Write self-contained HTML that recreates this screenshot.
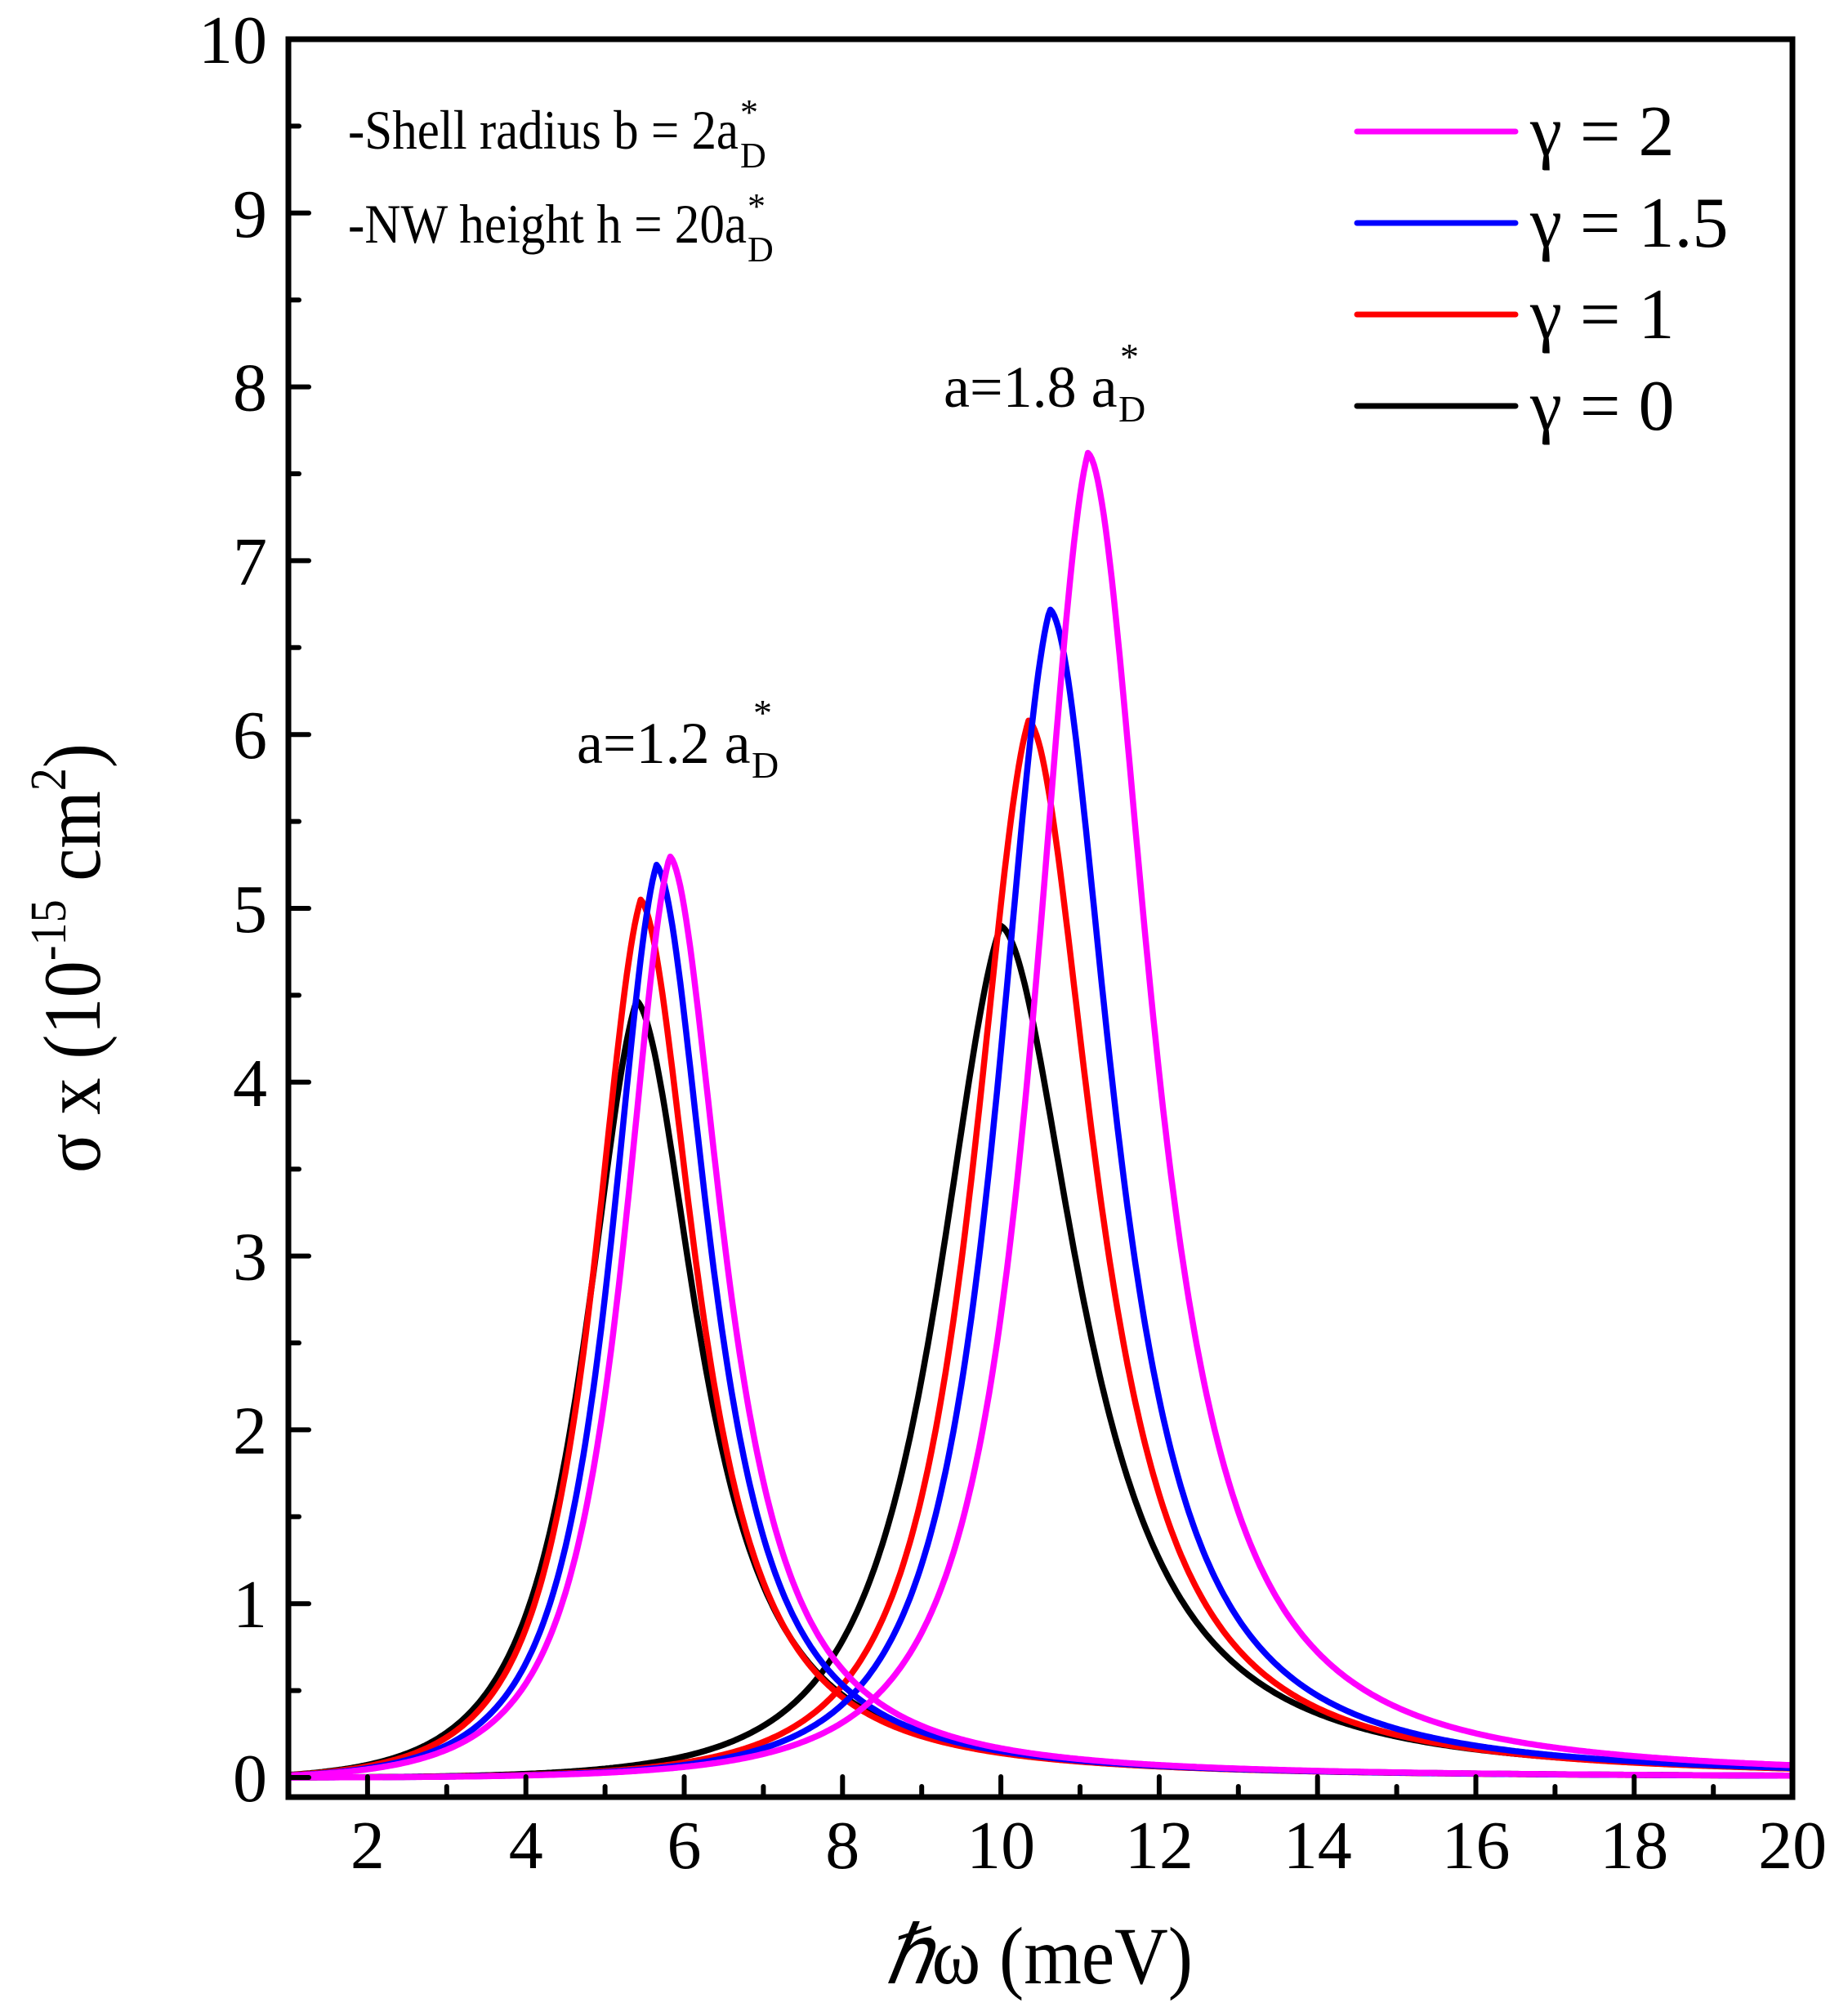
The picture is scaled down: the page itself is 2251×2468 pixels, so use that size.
<!DOCTYPE html>
<html><head><meta charset="utf-8"><style>
html,body{margin:0;padding:0;background:#fff;}
svg{display:block;}
text{font-family:"Liberation Serif",serif;fill:#000;}
</style></head><body>
<svg id="s" xmlns="http://www.w3.org/2000/svg" width="2251" height="2468" viewBox="0 0 2251 2468">
<rect width="2251" height="2468" fill="#fff"/>
<g id="curves" fill="none" stroke-width="7.5" stroke-linejoin="round"></g>
<g id="ticks" stroke="#000" stroke-width="6" stroke-linecap="round"></g>
<rect x="353" y="48" width="1841" height="2152" fill="none" stroke="#000" stroke-width="7"/>
<g id="labels" font-size="84"></g>

<g stroke-width="7" stroke-linecap="round">
<line x1="1661" y1="161" x2="1855" y2="161" stroke="#ff00ff"/>
<line x1="1661" y1="273" x2="1855" y2="273" stroke="#0000ff"/>
<line x1="1661" y1="385" x2="1855" y2="385" stroke="#ff0000"/>
<line x1="1661" y1="497" x2="1855" y2="497" stroke="#000000"/>
</g>
<g font-size="88">
<text x="1873" y="190">γ = 2</text>
<text x="1873" y="302">γ = 1.5</text>
<text x="1873" y="414">γ = 1</text>
<text x="1873" y="526">γ = 0</text>
</g>

<text x="426" y="182" font-size="68" textLength="478" lengthAdjust="spacingAndGlyphs">-Shell radius b = 2a</text>
<text x="906" y="152" font-size="44">*</text>
<text x="906" y="205" font-size="44">D</text>
<text x="426" y="297" font-size="68" textLength="488" lengthAdjust="spacingAndGlyphs">-NW height h = 20a</text>
<text x="915" y="267" font-size="44">*</text>
<text x="915" y="320" font-size="44">D</text>

<text x="706" y="934" font-size="72">a=1.2 a</text>
<text x="922" y="888" font-size="46">*</text>
<text x="920" y="952" font-size="46">D</text>
<text x="1155" y="498" font-size="72">a=1.8 a</text>
<text x="1371" y="452" font-size="46">*</text>
<text x="1369" y="516" font-size="46">D</text>

<text transform="translate(122,1436) rotate(-90)" font-size="100" textLength="526" lengthAdjust="spacingAndGlyphs">σ x (10<tspan font-size="62" dy="-42">-15</tspan><tspan dy="42"> cm</tspan><tspan font-size="62" dy="-42">2</tspan><tspan dy="42">)</tspan></text>
<text x="1083" y="2428" font-size="100" textLength="377" lengthAdjust="spacingAndGlyphs"><tspan font-style="italic">ℏ</tspan>ω (meV)</text>
</svg>
<script>
(function(){
var NS="http://www.w3.org/2000/svg";
function X(x){return 353+(x-1)*96.9;}
function Y(y){return 2176-y*212.8;}
var ticks=document.getElementById('ticks'),labels=document.getElementById('labels');
function line(x1,y1,x2,y2){var l=document.createElementNS(NS,'line');l.setAttribute('x1',x1);l.setAttribute('y1',y1);l.setAttribute('x2',x2);l.setAttribute('y2',y2);ticks.appendChild(l);}
function txt(x,y,s,anchor){var t=document.createElementNS(NS,'text');t.setAttribute('x',x);t.setAttribute('y',y);t.setAttribute('text-anchor',anchor);t.textContent=s;labels.appendChild(t);}
for(var i=0;i<=10;i++){var y=Y(i);line(353,y,378,y);txt(327,y+29,String(i),'end');
 if(i<10){var ym=Y(i+0.5);line(353,ym,366,ym);}}
for(var x=2;x<=20;x+=2){var xx=X(x);line(xx,2200,xx,2175);txt(xx,2287,String(x),'middle');
 if(x<20){var xm=X(x+1);line(xm,2200,xm,2187);}}
var curves=[
 ['#000000',5.4,4.47,1.0,1.6],['#000000',10.0,4.9,1.25,2.5],
 ['#ff0000',5.45,5.05,0.9,1.6],['#ff0000',10.35,6.08,1.05,2.5],
 ['#0000ff',5.65,5.25,0.87,1.6],['#0000ff',10.62,6.72,1.0,2.5],
 ['#ff00ff',5.82,5.3,0.87,1.6],['#ff00ff',11.1,7.62,1.0,2.5]
];
var g=document.getElementById('curves');
curves.forEach(function(c){
 var E=c[1],A=c[2],G=c[3],P=c[4],d='';
 for(var k=0;k<=760;k++){var w=1+19*k/760;
  var L=1/(1+Math.pow((w-E)/G,2));
  var f=(w<E)?Math.pow(w/E,P):Math.pow(E/w,0.5);
  var v=A*L*f;
  d+=(k?'L':'M')+X(w).toFixed(1)+' '+Y(v).toFixed(1);}
 var p=document.createElementNS(NS,'path');p.setAttribute('d',d);p.setAttribute('stroke',c[0]);g.appendChild(p);
});
})();
</script>
</body></html>
